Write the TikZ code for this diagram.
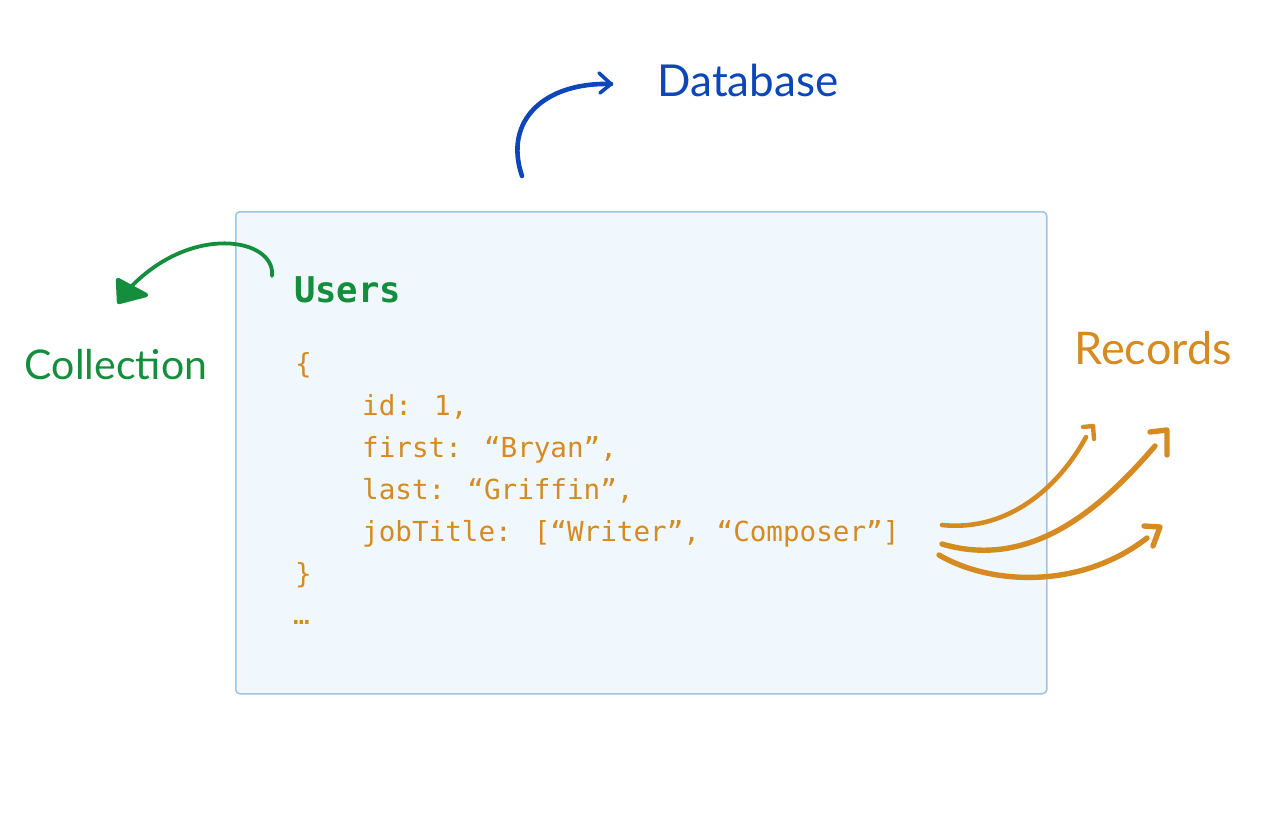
\documentclass[tikz,border=0pt]{standalone}
\usepackage{fontspec}
\newfontfamily\handfont{Lato}
\newfontfamily\codefont{DejaVu Sans Mono}
\definecolor{dbblue}{RGB}{12,70,184}
\definecolor{colgreen}{RGB}{20,142,60}
\definecolor{recorange}{RGB}{214,138,34}
\definecolor{boxfill}{RGB}{241,248,253}
\definecolor{boxline}{RGB}{160,196,230}
\begin{document}
\begin{tikzpicture}[x=1pt,y=-1pt,
  hand/.style={font=\handfont\fontsize{41}{41}\selectfont, inner sep=0pt},
  codeline/.style={font=\codefont\fontsize{27.6}{27.6}\selectfont, text=recorange, anchor=base west, inner sep=0pt},
  sketch/.style={line width=4.6pt, line cap=round, line join=round},
  tip/.style={line width=4.4pt, line cap=round, line join=round}]
\useasboundingbox (0,0) rectangle (1280,840);
% box
\node (box) [draw=boxline, fill=boxfill, line width=1.5pt, rounded corners=4pt,
  minimum width=811pt, minimum height=482pt, anchor=north west, inner sep=0pt] at (235,211) {};
% titles
\node (users) [font=\codefont\bfseries\fontsize{35.5}{35.5}\selectfont, text=colgreen, anchor=base west, inner sep=0pt] at (294,302) {Users};
\node (l0) [codeline] at (295,373) {\{};
\node (l1) [codeline] at (362,415) {id: 1,};
\node (l2) [codeline] at (362,457) {first: “Bryan”,};
\node (l3) [codeline] at (362,499) {last: “Griffin”,};
\node (l4) [codeline] at (362,541) {jobTitle: [“Writer”, “Composer”]};
\node (l5) [codeline] at (295,583) {\}};
\node (l6) [codeline] at (293,624) {…};
% labels
\node (db) [hand, text=dbblue, font=\handfont\fontsize{44}{44}\selectfont] at (748,80) {Database};
\node (coll) [hand, text=colgreen] at (116,365) {Collection};
\node (rec) [hand, text=recorange, font=\handfont\fontsize{45}{45}\selectfont] at (1153,348) {Records};
% database arrow
\coordinate (dbs) at (522,176);
\coordinate (dbe) at (611,84);
\draw[sketch, dbblue] (dbs) .. controls (503,120) and (545,82) .. (dbe);
\draw[tip, dbblue, line width=3.6pt] (599,73) -- (dbe) -- (600,93);
% collection arrow
\coordinate (cs) at (272,276);
\coordinate (ce) at (127,291);
\draw[sketch, colgreen, line width=3.8pt] (cs) .. controls (276,238) and (190,222) .. (ce);
\draw[tip, colgreen, fill=colgreen, line width=4.4pt] (118,280) -- (119,302) -- (146,295) -- cycle;
% records arrows
\coordinate (r1s) at (942,525);
\coordinate (r1e) at (1086,437);
\coordinate (r2s) at (942,544);
\coordinate (r2e) at (1155,446);
\coordinate (r3s) at (939,555);
\coordinate (r3e) at (1147,538);
\draw[sketch, recorange] (r1s) .. controls (1010,532) and (1060,485) .. (r1e);
\draw[tip, recorange] (1083,427) -- (1093,426) -- (1094,439);
\draw[sketch, recorange, line width=5.4pt] (r2s) .. controls (1030,570) and (1100,510) .. (r2e);
\draw[tip, recorange, line width=5.4pt] (1150,432) -- (1167,430) -- (1167,455);
\draw[sketch, recorange, line width=5.4pt] (r3s) .. controls (990,585) and (1080,590) .. (r3e);
\draw[tip, recorange, line width=5.4pt] (1144,526) -- (1160,527) -- (1153,546);
\end{tikzpicture}
\end{document}
